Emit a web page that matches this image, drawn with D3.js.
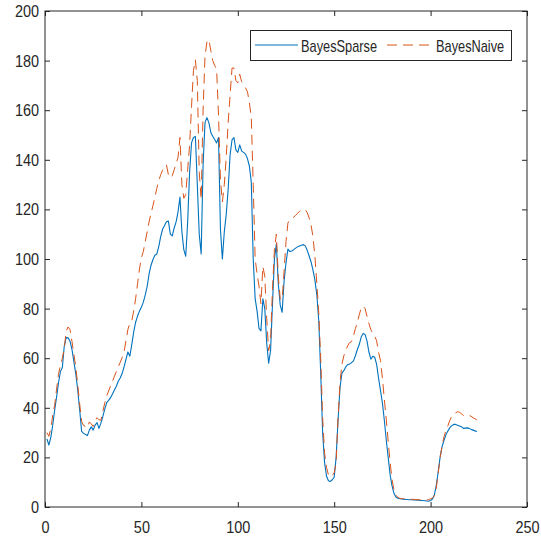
<!DOCTYPE html>
<html>
<head>
<meta charset="utf-8">
<script src="https://cdn.jsdelivr.net/npm/d3@7/dist/d3.min.js"></script>
<style>
  body { margin: 0; background: #fff; }
  svg { display: block; }
</style>
</head>
<body>
<svg id="chart"></svg>
<script>
// values, one per sample (sample 1..224)
const bayesSparse = [
  27.5, 25, 28, 33, 39, 44.3, 50, 54.6, 56.2, 65,
  68.3, 68.2, 66.8, 63.5, 58.5, 53.5, 47, 39, 30.5, 29.7,
  29.2, 28.8, 31, 32.3, 31, 33, 34, 31.7, 33.8, 36.5,
  39.5, 42.1, 43, 44.1, 45.6, 47.2, 48.7, 50.7, 52, 53.8,
  56.5, 59.5, 62.5, 60.8, 65.5, 70.5, 74.5, 77, 79, 80.5,
  82.6, 85.5, 89, 94, 97.5, 99.8, 101.5, 102, 105, 109,
  112, 113.5, 115, 115.3, 110, 109.3, 112.5, 115, 119, 125,
  111, 103.8, 101.1, 115, 135, 146.8, 149, 149.4, 130, 110,
  102, 138, 155, 157, 155, 151, 149.5, 148.2, 146.8, 149,
  112, 100, 111, 118, 128, 142, 148, 149, 144, 143,
  146, 143.5, 143, 142.3, 140.5, 137.5, 131, 100, 84, 79,
  72, 71, 84, 80, 66, 58, 63, 82, 100, 106,
  90, 81.5, 78.5, 91, 98.5, 104, 103, 103.2, 103.8, 104.4,
  104.9, 105.2, 105.5, 105.8, 105.3, 103.5, 101.2, 98.8, 95.5, 91.5,
  85.5, 75, 54, 30, 18, 12.5, 10.6, 10.3, 11, 12,
  20, 35, 48, 54, 55, 56.5, 57.4, 57.7, 58.2, 58.9,
  61, 63.5, 65.5, 68.5, 70, 69.6, 67, 62.5, 59.6, 60.8,
  60.4, 57.5, 52, 47, 42, 35, 27, 20, 13, 8.5,
  5.5, 4, 3.5, 3.3, 3.2, 3.1, 3.0, 3.0, 2.9, 2.9,
  2.8, 2.8, 2.7, 2.7, 2.6, 2.6, 2.5, 2.4, 2.3, 2.6,
  3.2, 5, 9, 14.5, 20.5, 24.5, 27, 29.2, 30.7, 32,
  32.8, 33.3, 33.3, 33, 32.7, 32.4, 31.7, 31.8, 31.9, 31.7,
  31.3, 31, 30.7, 30.4
];
const bayesNaive = [
  30, 28.5, 31.5, 37, 41, 47.5, 53.5, 57, 60, 64,
  71, 72.6, 71.5, 66.7, 61.5, 56.3, 49, 41.5, 34.5, 32.8,
  32.5, 32, 34.3, 33.5, 32.5, 34.5, 36, 35.2, 35, 38.5,
  42, 44.8, 46.8, 48.8, 50.7, 52.7, 54.6, 56.5, 58.3, 60.2,
  62.5, 67, 71.6, 74, 75, 79, 84, 90, 96, 100.5,
  103, 107, 111, 115, 118.5, 121.5, 125, 128.5, 131.5, 134,
  135.8, 137, 138, 134, 132.7, 133.5, 136, 138.5, 141, 149,
  130, 124.5, 126, 136, 146, 161.5, 176, 180.3, 172, 135,
  124, 160, 182, 187.5, 188.5, 184, 180, 178, 176.5, 158,
  132, 123, 130, 141, 155, 166, 177, 177, 172, 171,
  174.5, 171.5, 170.3, 169, 167.5, 163, 157, 130, 100, 94,
  89, 82, 97, 93, 76, 63, 67, 88, 104, 110,
  93, 84, 83.5, 95, 107, 114.5, 116, 116.4, 116.9, 117.6,
  118.4, 119.2, 119.6, 119.9, 119.9, 118.7, 116.6, 113.6, 109, 101,
  90, 78, 60, 36, 22, 16, 13, 12.2, 12.7, 13.8,
  18, 36, 50, 57.5, 61, 63, 65, 66.3, 66.7, 69,
  72, 74.3, 77.5, 80.3, 81, 80, 77, 74, 71.5, 70,
  69, 67, 62.5, 59, 52, 43.5, 35.4, 26.5, 18, 11,
  7, 4.8, 3.9, 3.5, 3.4, 3.3, 3.3, 3.2, 3.2, 3.1,
  3.1, 3.0, 3.0, 2.9, 2.9, 2.8, 2.8, 2.8, 3.0, 3.3,
  3.7, 4.5, 8, 14, 20, 25, 28.5, 31, 32.8, 35,
  36.6, 37.5, 38, 38.4, 38.2, 37.6, 36.9, 36.7, 37, 36.9,
  36.6, 36, 35.6, 35.1
];
const xTicks = [0, 50, 100, 150, 200, 250];
const yTicks = [0, 20, 40, 60, 80, 100, 120, 140, 160, 180, 200];
const seriesNames = ["BayesSparse", "BayesNaive"];

const svgWidth = 541, svgHeight = 539;
const margin = { top: 11, right: 14, bottom: 32, left: 45 };
const width = svgWidth - margin.left - margin.right;
const height = svgHeight - margin.top - margin.bottom;
const axisColor = "#262626";
const blue = "#0072BD", red = "#D95319";
const squeeze = 0.85; // the lettering in the picture is narrow

const svg = d3.select("#chart").attr("width", svgWidth).attr("height", svgHeight);
const g = svg.append("g").attr("transform", `translate(${margin.left},${margin.top})`);

const x = d3.scaleLinear().domain([0, 250]).range([0, width]);
const y = d3.scaleLinear().domain([0, 200]).range([height, 0]);

const line = d3.line().x((d, i) => x(i + 1)).y(d => y(d));

// Lines
g.append("path").datum(bayesSparse)
  .attr("fill", "none")
  .attr("stroke", blue)
  .attr("stroke-width", 1.1)
  .attr("stroke-linejoin", "round")
  .attr("d", line);

g.append("path").datum(bayesNaive)
  .attr("fill", "none")
  .attr("stroke", red)
  .attr("stroke-width", 1)
  .attr("stroke-dasharray", "10,6")
  .attr("d", line);

// Axes (ticks point inward, box on all four sides)
function styleAxis(sel) {
  sel.select(".domain").remove();
  sel.selectAll("line").attr("stroke", axisColor);
  sel.selectAll("text")
    .attr("fill", axisColor)
    .attr("font-family", "'Liberation Sans', Arial, Helvetica, sans-serif")
    .attr("font-size", "17px");
}

const gx = g.append("g").attr("transform", `translate(0,${height})`)
  .call(d3.axisBottom(x).tickValues(xTicks).tickSizeInner(-5).tickSizeOuter(0).tickPadding(14));
styleAxis(gx);
gx.selectAll("text").attr("transform", `scale(${squeeze},1)`);

const gy = g.append("g")
  .call(d3.axisLeft(y).tickValues(yTicks).tickSizeInner(-5).tickSizeOuter(0).tickPadding(6));
styleAxis(gy);
gy.selectAll("text").attr("x", -6 / squeeze).attr("transform", `scale(${squeeze},1)`);

const gTop = g.append("g")
  .call(d3.axisTop(x).tickValues(xTicks).tickSizeInner(-5).tickSizeOuter(0).tickFormat(""));
styleAxis(gTop);
const gRight = g.append("g").attr("transform", `translate(${width},0)`)
  .call(d3.axisRight(y).tickValues(yTicks).tickSizeInner(-5).tickSizeOuter(0).tickFormat(""));
styleAxis(gRight);

g.append("rect")
  .attr("x", 0).attr("y", 0)
  .attr("width", width).attr("height", height)
  .attr("fill", "none")
  .attr("stroke", axisColor)
  .attr("stroke-width", 1);

// Legend
const legend = svg.append("g").attr("transform", "translate(250.5,30.5)");
legend.append("rect")
  .attr("width", 261).attr("height", 30)
  .attr("fill", "#fff")
  .attr("stroke", axisColor)
  .attr("stroke-width", 1);

const legendItems = [
  { name: seriesNames[0], color: blue, dash: null, x0: 4.5, text: 50.5 },
  { name: seriesNames[1], color: red, dash: "10,6", x0: 136.5, text: 185.5 }
];
legendItems.forEach(d => {
  legend.append("line")
    .attr("x1", d.x0).attr("x2", d.x0 + 43)
    .attr("y1", 14.5).attr("y2", 14.5)
    .attr("stroke", d.color)
    .attr("stroke-width", 1)
    .attr("stroke-dasharray", d.dash);
  legend.append("text")
    .attr("transform", `translate(${d.text},21) scale(0.8,1)`)
    .attr("fill", axisColor)
    .attr("font-family", "'Liberation Sans', Arial, Helvetica, sans-serif")
    .attr("font-size", "16px")
    .text(d.name);
});
</script>
</body>
</html>
